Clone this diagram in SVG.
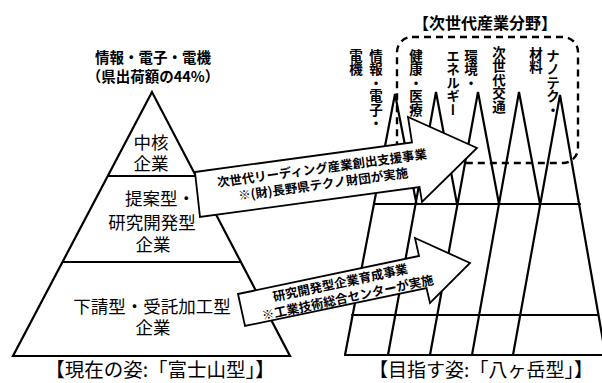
<svg xmlns="http://www.w3.org/2000/svg" width="602" height="383" viewBox="0 0 602 383">
<style>
text{font-family:'Noto Sans CJK JP','Noto Sans CJK SC',sans-serif;fill:#000}
.ln{stroke:#000;stroke-width:2.2;fill:none;stroke-linecap:round}
.lbl{font-size:17.5px;text-anchor:middle}
.ttl{font-size:14.5px;font-weight:bold;text-anchor:middle}
.cap{font-size:19.5px;text-anchor:middle}
.vt{font-size:13.5px;font-weight:bold;writing-mode:vertical-rl}
.arw{fill:#fff;stroke:#000;stroke-width:1.8;stroke-linejoin:miter}
.at{font-size:12.5px;font-weight:bold;text-anchor:middle}
</style>
<rect width="602" height="383" fill="#fff"/>
<g id="fuji">
<polygon class="ln" points="152,92 13,356 290,356"/>
<line class="ln" x1="108" y1="176" x2="196" y2="176"/>
<line class="ln" x1="63" y1="262" x2="241" y2="262"/>
</g>
<g id="fuji-labels">
<text class="ttl" x="153" y="63">情報・電子・電機<tspan x="153" dy="19">（県出荷額の44%）</tspan></text>
<text class="lbl" x="151" y="149">中核<tspan x="151" dy="21">企業</tspan></text>
<text class="lbl" x="160" y="205">提案型・<tspan x="152" dy="24">研究開発型</tspan><tspan x="153" dy="22">企業</tspan></text>
<text class="lbl" x="152" y="313">下請型・受託加工型<tspan x="153" dy="21">企業</tspan></text>
<text class="cap" x="160" y="377">【現在の姿:「富士山型」】</text>
</g>
<g id="yatsugatake">
<rect x="397" y="37" width="181" height="126" rx="15" fill="none" stroke="#000" stroke-width="2.4" stroke-dasharray="7 5"/>
<path class="ln" d="M345,355 L395,94 L416.5,204 M388,355 L436,92 L457,204 M430,355 L478,92 L499,204 M472,355 L519,92 L540,204 M513,355 L560,95 L606,358"/>
<line class="ln" x1="374" y1="204" x2="580" y2="204"/>
<line class="ln" x1="352" y1="315" x2="598" y2="315"/>
<line class="ln" x1="345" y1="355" x2="602" y2="355"/>
</g>
<g id="fields">
<text x="485" y="29" style="font-size:16px;font-weight:bold;text-anchor:middle">【次世代産業分野】</text>
<text class="vt" x="376" y="49">情報・電子・</text>
<text class="vt" x="356" y="49">電機</text>
<text class="vt" x="416" y="49">健康・医療</text>
<text class="vt" x="471" y="49">環境・</text>
<text class="vt" x="453" y="49">エネルギー</text>
<text class="vt" x="499" y="46">次世代交通</text>
<text class="vt" x="553" y="49">ナノテク・</text>
<text class="vt" x="536" y="47">材料</text>
<text class="cap" x="481" y="377" style="font-size:19px">【目指す姿:「八ヶ岳型」】</text>
</g>
<g id="connectors">
<g id="arrow-leading">
<polygon class="arw" points="195,172 412,142.5 408,117 477,148 422,202 419.5,187 200,217"/>
<g transform="rotate(-7.8 323 176)">
<text class="at" x="323" y="172.7">次世代リーディング産業創出支援事業<tspan x="322" dy="16">※(財)長野県テクノ財団が実施</tspan></text>
</g>
</g>
<g id="arrow-research">
<polygon class="arw" points="238,294 419,256 415,238 470,263 430,303 426.5,288 245,326"/>
<g transform="rotate(-12 344 290)">
<text class="at" x="342" y="286.7">研究開発型企業育成事業<tspan x="346" dy="16">※工業技術総合センターが実施</tspan></text>
</g>
</g>
</g>
</svg>
